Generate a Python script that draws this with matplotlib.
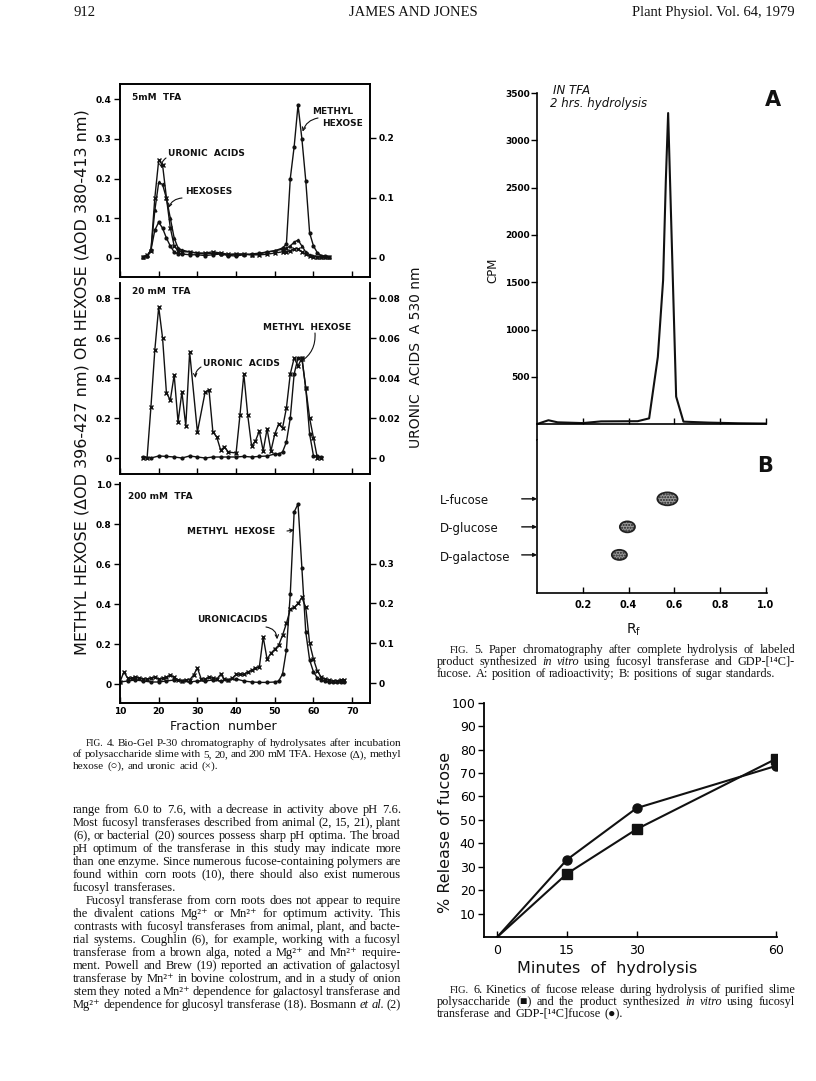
import matplotlib
matplotlib.use('Agg')
import matplotlib.pyplot as plt
from matplotlib.patches import Ellipse

W, H = 816, 1081

# ---- Fig. 4 data (5, 20, 200 mM TFA) ----
frac_5 = [16, 17, 18, 19, 20, 21, 22, 23, 24, 25, 26, 28, 30, 32, 34, 36, 38, 40,
          42, 44, 46, 48, 50, 52, 53, 54, 55, 56, 57, 58, 59, 60, 61, 62, 63, 64]
hexose_5 = [0.003, 0.005, 0.02, 0.12, 0.19, 0.185, 0.15, 0.10, 0.05, 0.025, 0.02, 0.015,
            0.012, 0.01, 0.012, 0.01, 0.008, 0.01, 0.01, 0.008, 0.01, 0.015, 0.018, 0.022,
            0.025, 0.03, 0.04, 0.045, 0.03, 0.015, 0.008, 0.004, 0.003, 0.002, 0.002, 0.002]
methyl_5 = [0.003, 0.005, 0.02, 0.07, 0.09, 0.075, 0.05, 0.03, 0.015, 0.01, 0.01, 0.008,
            0.008, 0.006, 0.008, 0.01, 0.006, 0.005, 0.008, 0.01, 0.012, 0.015, 0.018, 0.025,
            0.035, 0.2, 0.28, 0.385, 0.30, 0.195, 0.063, 0.03, 0.013, 0.006, 0.004, 0.003]
uronic_5 = [0.002, 0.004, 0.012, 0.1, 0.163, 0.155, 0.1, 0.05, 0.02, 0.012, 0.01, 0.01,
            0.008, 0.008, 0.01, 0.008, 0.006, 0.006, 0.006, 0.005, 0.005, 0.006, 0.008, 0.01,
            0.01, 0.012, 0.015, 0.015, 0.01, 0.006, 0.003, 0.002, 0.002, 0.001, 0.001, 0.001]

frac_20_u = [16, 17, 18, 19, 20, 21, 22, 23, 24, 25, 26, 27, 28, 30, 32, 33, 34, 35, 36, 37, 38,
             40, 41, 42, 43, 44, 45, 46, 47, 48, 49, 50, 51, 52, 53, 54, 55, 56, 57, 58, 59, 60, 61, 62]
uronic_20 = [0, 0, 0.0257, 0.054, 0.0755, 0.06, 0.0325, 0.029, 0.0415, 0.018, 0.033, 0.016, 0.053,
             0.013, 0.033, 0.034, 0.013, 0.0105, 0.004, 0.0055, 0.003,
             0.0025, 0.0215, 0.042, 0.0215, 0.006, 0.0085, 0.0135, 0.0035, 0.0145, 0.0035, 0.012,
             0.017, 0.015, 0.025, 0.042, 0.05, 0.046, 0.05, 0.035, 0.02, 0.01, 0.0, 0.0]
frac_20_m = [16, 18, 20, 22, 24, 26, 28, 30, 32, 34, 36, 38, 40, 42, 44, 46, 48, 50,
             51, 52, 53, 54, 55, 56, 57, 58, 59, 60, 61, 62]
methyl_20 = [0.005, 0.0, 0.01, 0.008, 0.005, 0.0, 0.01, 0.005, 0.0, 0.005, 0.005, 0.005,
             0.005, 0.008, 0.005, 0.008, 0.01, 0.02,
             0.02, 0.03, 0.08, 0.2, 0.42, 0.5, 0.5, 0.35, 0.12, 0.01, 0.01, 0.005]

frac_200_u = list(range(10, 69))
uronic_200 = [0.003, 0.028, 0.012, 0.012, 0.015, 0.012, 0.01, 0.01, 0.012, 0.015,
              0.01, 0.012, 0.015, 0.02, 0.015, 0.008, 0.006, 0.008, 0.008, 0.02,
              0.038, 0.01, 0.01, 0.015, 0.012, 0.01, 0.022, 0.01, 0.008, 0.012,
              0.022, 0.022, 0.022, 0.028, 0.032, 0.038, 0.04, 0.116, 0.06, 0.075,
              0.085, 0.095, 0.12, 0.15, 0.185, 0.19, 0.2, 0.215, 0.19, 0.1,
              0.06, 0.03, 0.015, 0.01, 0.007, 0.005, 0.006, 0.007, 0.008]
frac_200_m = [10, 12, 14, 16, 18, 20, 22, 24, 26, 28, 30, 32, 34, 36, 38, 40, 42, 44, 46, 48, 50,
              51, 52, 53, 54, 55, 56, 57, 58, 59, 60, 61, 62, 63, 64, 65, 66, 67, 68]
methyl_200 = [0.01, 0.015, 0.02, 0.015, 0.01, 0.01, 0.015, 0.02, 0.015, 0.01, 0.015, 0.015,
              0.02, 0.015, 0.02, 0.025, 0.015, 0.01, 0.008, 0.008, 0.01,
              0.015, 0.05, 0.17, 0.45, 0.86, 0.9, 0.58, 0.26, 0.12, 0.06, 0.03, 0.02, 0.015,
              0.01, 0.008, 0.01, 0.012, 0.012]

# ---- Fig. 5 data ----
rf_a = [0.0, 0.05, 0.09, 0.2, 0.28, 0.44, 0.49, 0.528, 0.551, 0.563, 0.573, 0.608, 0.64, 0.75, 0.88, 1.0]
cpm_a = [0, 40, 18, 10, 28, 30, 60, 710, 1520, 2580, 3290, 290, 25, 15, 8, 5]
sugars = ['L-fucose', 'D-glucose', 'D-galactose']
rf_spots = [0.57, 0.395, 0.36]

# ---- Fig. 6 data ----
minutes = [0, 15, 30, 60]
release_slime = [0, 27, 46, 76]
release_product = [0, 33, 55, 73]

SERIF = ['Liberation Serif', 'DejaVu Serif', 'DejaVu Sans']

fig = plt.figure(figsize=(W / 100, H / 100), dpi=100)
fig.patch.set_facecolor('white')


def ax_px(x0, y0, x1, y1):
    return fig.add_axes([x0 / W, 1 - y1 / H, (x1 - x0) / W, (y1 - y0) / H])


def txt(x, y, s, **kw):
    return fig.text(x / W, 1 - y / H, s, **kw)


renderer = fig.canvas.get_renderer()


def text_line(x0, x1, y, line, size, justify=True):
    # lay words out one by one so the line can be justified like the page
    texts = []
    for w in line.split():
        style, fs = 'normal', size
        if w.startswith('_'):
            w, style = w[1:], 'italic'
        if w.startswith('~'):
            w, fs = w[1:], size * 0.85
        texts.append(fig.text(0, 1 - y / H, w, fontsize=fs, family=SERIF, style=style,
                              va='baseline', color='#111'))
    widths = [t.get_window_extent(renderer).width for t in texts]
    gap = size * 0.3 * 100 / 72
    if justify and len(texts) > 1:
        gap = max((x1 - x0 - sum(widths)) / (len(texts) - 1), 1.5)
    x = x0
    for t, wd in zip(texts, widths):
        t.set_x(x / W)
        x += wd + gap


def style_fig4(ax, axr, left_ticks, left_lbls, right_ticks, right_lbls, top=True, xlabels=False):
    ax.set_xlim(10, 74.6)
    for a in (ax, axr):
        for s in a.spines.values():
            s.set_linewidth(1.2)
        a.spines['top'].set_visible(top)
    ax.set_yticks(left_ticks)
    ax.set_yticklabels(left_lbls, fontsize=6.5, fontweight='bold')
    axr.set_yticks(right_ticks)
    axr.set_yticklabels(right_lbls, fontsize=6.5, fontweight='bold')
    ax.tick_params(axis='y', direction='out', length=4, width=1, pad=2)
    axr.tick_params(axis='y', direction='out', length=4, width=1, pad=2)
    ax.set_xticks([10, 20, 30, 40, 50, 60, 70])
    ax.tick_params(axis='x', direction='in', length=4, width=1, pad=3)
    if xlabels:
        ax.set_xticklabels(['10', '20', '30', '40', '50', '60', '70'], fontsize=6.5, fontweight='bold')
    else:
        ax.set_xticklabels([])


def arrow(ax, xy, xt, yt, rad=0.3, head=True):
    ax.annotate('', xy=xy, xytext=(xt / W, 1 - yt / H), textcoords='figure fraction',
                arrowprops=dict(arrowstyle='->' if head else '-', lw=0.8, color='#111',
                                mutation_scale=6, connectionstyle='arc3,rad=%s' % rad,
                                shrinkA=0, shrinkB=0))


lab = dict(fontsize=6.5, fontweight='bold', color='#111', va='center')
line_kw = dict(color='#111', lw=1.0)

# panel 1: 5 mM
ax1 = ax_px(120, 84, 370, 277)
ax1r = ax1.twinx()
ax1.set_ylim(-0.048, 0.438)
ax1r.set_ylim(-0.032, 0.29)
ax1.plot(frac_5, hexose_5, marker='^', ms=2, **line_kw)
ax1.plot(frac_5, methyl_5, marker='o', ms=2, **line_kw)
ax1r.plot(frac_5, uronic_5, marker='x', ms=2.5, **line_kw)
style_fig4(ax1, ax1r, [0, 0.1, 0.2, 0.3, 0.4], ['0', '0.1', '0.2', '0.3', '0.4'],
           [0, 0.1, 0.2], ['0', '0.1', '0.2'])
txt(132, 98, '5mM  TFA', **lab)
txt(312, 112, 'METHYL', **lab)
txt(322, 123, 'HEXOSE', **lab)
txt(168, 154, 'URONIC  ACIDS', **lab)
txt(185, 192, 'HEXOSES', **lab)
arrow(ax1, (57.2, 0.318), 318, 118, rad=0.3)
arrow(ax1, (20.8, 0.226), 166, 158, rad=0.3)
arrow(ax1, (22.5, 0.126), 182, 198, rad=0.3)

# panel 2: 20 mM
ax2 = ax_px(120, 283, 370, 474)
ax2r = ax2.twinx()
ax2.set_ylim(-0.08, 0.875)
ax2r.set_ylim(-0.008, 0.0875)
ax2.plot(frac_20_m, methyl_20, marker='o', ms=2, **line_kw)
ax2r.plot(frac_20_u, uronic_20, marker='x', ms=2.5, **line_kw)
style_fig4(ax2, ax2r, [0, 0.2, 0.4, 0.6, 0.8], ['0', '0.2', '0.4', '0.6', '0.8'],
           [0, 0.02, 0.04, 0.06, 0.08], ['0', '0.02', '0.04', '0.06', '0.08'], top=False)
txt(132, 292, '20 mM  TFA', **lab)
txt(263, 327, 'METHYL  HEXOSE', **lab)
txt(203, 363, 'URONIC  ACIDS', **lab)
arrow(ax2, (56.5, 0.48), 315, 333, rad=-0.3)
arrow(ax2, (29.5, 0.4), 201, 367, rad=0.3)

# panel 3: 200 mM
ax3 = ax_px(120, 483, 370, 703)
ax3r = ax3.twinx()
ax3.set_ylim(-0.095, 1.005)
ax3r.set_ylim(-0.05, 0.5025)
ax3.plot(frac_200_m, methyl_200, marker='o', ms=2, **line_kw)
ax3r.plot(frac_200_u, uronic_200, marker='x', ms=2.5, **line_kw)
style_fig4(ax3, ax3r, [0, 0.2, 0.4, 0.6, 0.8, 1.0], ['0', '0.2', '0.4', '0.6', '0.8', '1.0'],
           [0, 0.1, 0.2, 0.3], ['0', '0.1', '0.2', '0.3'], top=False, xlabels=True)
txt(128, 497, '200 mM  TFA', **lab)
txt(187, 531, 'METHYL  HEXOSE', **lab)
txt(197, 620, 'URONICACIDS', **lab)
arrow(ax3, (55.0, 0.77), 287, 531, rad=0)
arrow(ax3r, (50.6, 0.11), 266, 627, rad=-0.4)

txt(82, 382, 'METHYL HEXOSE (\u0394OD 396-427 nm) OR HEXOSE (\u0394OD 380-413 nm)',
    rotation=90, ha='center', va='center', fontsize=11.5, color='#111')
txt(416, 357, 'URONIC  ACIDS  A 530 nm', rotation=90, ha='center', va='center',
    fontsize=10, color='#111')
txt(223, 727, 'Fraction  number', ha='center', va='center', fontsize=9, color='#111')

# ---- Fig. 5 A ----
ax5a = ax_px(537, 88, 767, 440)
ax5a.set_xlim(0, 1.005)
ax5a.set_ylim(-169, 3555)
ax5a.plot(rf_a, cpm_a, color='#111', lw=1.5)
for s in ('top', 'right'):
    ax5a.spines[s].set_visible(False)
ax5a.spines['bottom'].set_position(('data', 0))
ax5a.spines['bottom'].set_bounds(0, 1.0)
ax5a.spines['left'].set_bounds(-169, 3500)
for s in ('bottom', 'left'):
    ax5a.spines[s].set_linewidth(1.2)
ax5a.set_yticks([500, 1000, 1500, 2000, 2500, 3000, 3500])
ax5a.set_yticklabels(['500', '1000', '1500', '2000', '2500', '3000', '3500'],
                     fontsize=6.5, fontweight='bold')
ax5a.tick_params(axis='y', direction='out', length=4, width=1, pad=1)
ax5a.set_xticks([0.2, 0.4, 0.6, 0.8, 1.0])
ax5a.set_xticklabels([])
ax5a.tick_params(axis='x', direction='in', length=4, width=1)
txt(493, 270, 'CPM', rotation=90, ha='center', va='center', fontsize=8.5, color='#111')
txt(553, 90, 'IN TFA', style='italic', fontsize=8.5, va='center', color='#111')
txt(550, 103, '2 hrs. hydrolysis', style='italic', fontsize=8.5, va='center', color='#111')
txt(773, 100, 'A', fontsize=15, fontweight='bold', ha='center', va='center', color='#111')

# ---- Fig. 5 B ----
ax5b = ax_px(537, 440, 767, 593)
ax5b.set_xlim(0, 1.005)
ax5b.set_ylim(-0.36, 5.1)
for s in ('top', 'right'):
    ax5b.spines[s].set_visible(False)
for s in ('bottom', 'left'):
    ax5b.spines[s].set_linewidth(1.2)
ax5b.set_yticks([])
ax5b.set_xticks([0.2, 0.4, 0.6, 0.8, 1.0])
ax5b.set_xticklabels(['0.2', '0.4', '0.6', '0.8', '1.0'], fontsize=7, fontweight='bold')
ax5b.tick_params(axis='x', direction='in', length=4, width=1, pad=5)
spot_w = [0.088, 0.066, 0.066]
spot_h = [0.46, 0.39, 0.36]
for i, (name, rf) in enumerate(zip(sugars, rf_spots)):
    yv = 3 - i
    ax5b.add_patch(Ellipse((rf, yv), spot_w[i], spot_h[i], facecolor='#9a9a9a',
                           edgecolor='#222', lw=1.3, hatch='......'))
    ax5b.annotate('', xy=(0, yv), xytext=(-11, 0), textcoords='offset points',
                  arrowprops=dict(arrowstyle='-|>', lw=1, color='#111', mutation_scale=5,
                                  shrinkA=0, shrinkB=0), annotation_clip=False)
    txt(440, 500 + 28.5 * i, name, fontsize=8.5, va='center', color='#111')
txt(765, 466, 'B', fontsize=15, fontweight='bold', ha='center', va='center', color='#111')
txt(634, 630, r'R$_\mathregular{f}$', fontsize=10, ha='center', va='center', color='#111')

# ---- Fig. 6 ----
ax6 = ax_px(484, 702.7, 777, 937)
ax6.set_xlim(-2.86, 60.24)
ax6.set_ylim(0, 100)
ax6.plot(minutes, release_slime, color='#111', lw=1.5, marker='s', ms=6.5, markevery=[1, 2, 3])
ax6.plot(minutes, release_product, color='#111', lw=1.5, marker='o', ms=6.5, markevery=[1, 2, 3])
for s in ('top', 'right'):
    ax6.spines[s].set_visible(False)
for s in ('bottom', 'left'):
    ax6.spines[s].set_linewidth(1.3)
ax6.set_yticks(list(range(10, 101, 10)))
ax6.set_yticklabels([str(v) for v in range(10, 101, 10)], fontsize=9)
ax6.tick_params(axis='y', direction='out', length=4, width=1, pad=2)
ax6.set_xticks(minutes)
ax6.set_xticklabels([str(m) for m in minutes], fontsize=9)
ax6.tick_params(axis='x', direction='in', length=4, width=1, pad=5)
txt(446, 832, '% Release of fucose', rotation=90, ha='center', va='center', fontsize=11.5,
    color='#111')
txt(607, 968, 'Minutes  of  hydrolysis', ha='center', va='center', fontsize=11.5, color='#111')

# ---- page text ----
txt(73, 16, '912', family=SERIF, fontsize=10.5, va='baseline', color='#111')
txt(413, 16, 'JAMES AND JONES', family=SERIF, fontsize=10.5, ha='center', va='baseline', color='#111')
txt(795, 16, 'Plant Physiol. Vol. 64, 1979', family=SERIF, fontsize=10.5, ha='right',
    va='baseline', color='#111')

cap4 = [
    "~FIG. 4. Bio-Gel P-30 chromatography of hydrolysates after incubation",
    "of polysaccharide slime with 5, 20, and 200 mM TFA. Hexose (\u0394), methyl",
    "hexose (\u25cb), and uronic acid (\u00d7).",
]
for i, ln in enumerate(cap4):
    text_line(86 if i == 0 else 73, 401, 746 + 11.3 * i, ln, 8.1, justify=i < 2)

body = [
    "range from 6.0 to 7.6, with a decrease in activity above pH 7.6.",
    "Most fucosyl transferases described from animal (2, 15, 21), plant",
    "(6), or bacterial (20) sources possess sharp pH optima. The broad",
    "pH optimum of the transferase in this study may indicate more",
    "than one enzyme. Since numerous fucose-containing polymers are",
    "found within corn roots (10), there should also exist numerous",
    "fucosyl transferases.",
    "Fucosyl transferase from corn roots does not appear to require",
    "the divalent cations Mg\u00b2\u207a or Mn\u00b2\u207a for optimum activity. This",
    "contrasts with fucosyl transferases from animal, plant, and bacte-",
    "rial systems. Coughlin (6), for example, working with a fucosyl",
    "transferase from a brown alga, noted a Mg\u00b2\u207a and Mn\u00b2\u207a require-",
    "ment. Powell and Brew (19) reported an activation of galactosyl",
    "transferase by Mn\u00b2\u207a in bovine colostrum, and in a study of onion",
    "stem they noted a Mn\u00b2\u207a dependence for galactosyl transferase and",
    "Mg\u00b2\u207a dependence for glucosyl transferase (18). Bosmann _et _al. (2)",
]
for i, ln in enumerate(body):
    text_line(86 if i == 7 else 73, 401, 813 + 13 * i, ln, 9.0, justify=i != 6)

cap5 = [
    "~FIG. 5. Paper chromatography after complete hydrolysis of labeled",
    "product synthesized _in _vitro using fucosyl transferase and GDP-[\u00b9\u2074C]-",
    "fucose. A: position of radioactivity; B: positions of sugar standards.",
]
for i, ln in enumerate(cap5):
    text_line(450 if i == 0 else 437, 795, 653 + 12 * i, ln, 8.8, justify=i < 2)

cap6 = [
    "~FIG. 6. Kinetics of fucose release during hydrolysis of purified slime",
    "polysaccharide (\u25a0) and the product synthesized _in _vitro using fucosyl",
    "transferase and GDP-[\u00b9\u2074C]fucose (\u25cf).",
]
for i, ln in enumerate(cap6):
    text_line(450 if i == 0 else 437, 795, 993 + 12 * i, ln, 8.8, justify=i < 2)

fig.savefig('out.png', dpi=100, facecolor='white')
